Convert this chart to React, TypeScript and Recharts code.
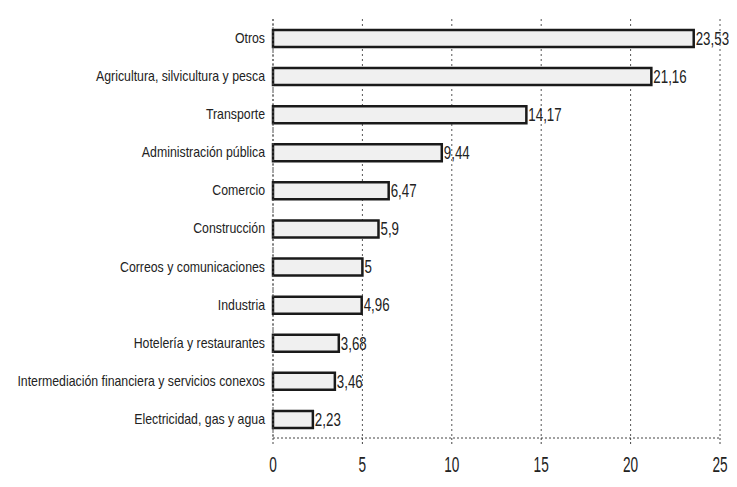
import { BarChart, Bar, XAxis, YAxis, CartesianGrid, LabelList } from "recharts"

const categories = [
  "Otros",
  "Agricultura, silvicultura y pesca",
  "Transporte",
  "Administración pública",
  "Comercio",
  "Construcción",
  "Correos y comunicaciones",
  "Industria",
  "Hotelería y restaurantes",
  "Intermediación financiera y servicios conexos",
  "Electricidad, gas y agua",
]

const values = [23.53, 21.16, 14.17, 9.44, 6.47, 5.9, 5, 4.96, 3.68, 3.46, 2.23]

const xTicks = [0, 5, 10, 15, 20, 25]

const data = categories.map((name, i) => ({ name, value: values[i] }))

const FONT = "'Liberation Sans', Arial, sans-serif"

const fmt = (v: any) => String(v).replace(".", ",")

// narrow text: no condensed font installed, so squeeze horizontally
function YTick(props: any) {
  const { x, y, payload } = props
  return (
    <text
      transform={`translate(${x},${y}) scale(0.88,1)`}
      textAnchor="end"
      dy="0.35em"
      fill="#222"
      fontSize={14}
      fontFamily={FONT}
    >
      {payload.value}
    </text>
  )
}

function XTick(props: any) {
  const { x, y, payload } = props
  return (
    <text
      transform={`translate(${x},${y}) scale(0.62,1)`}
      textAnchor="middle"
      dy="0.71em"
      fill="#222"
      fontSize={22}
      fontFamily={FONT}
    >
      {payload.value}
    </text>
  )
}

function ValueLabel(props: any) {
  const { x, y, width, height, value } = props
  return (
    <text
      transform={`translate(${x + width + 2},${y + height / 2}) scale(0.74,1)`}
      dy="0.35em"
      fill="#222"
      fontSize={18}
      fontFamily={FONT}
    >
      {fmt(value)}
    </text>
  )
}

export default function App() {
  return (
    <div style={{ margin: -8, width: 737, height: 487, background: "#fff" }}>
      <BarChart
        width={737}
        height={487}
        data={data}
        layout="vertical"
        margin={{ top: 19, right: 17, bottom: 0, left: 0 }}
      >
        <CartesianGrid horizontal={false} stroke="#555" strokeDasharray="2 3" />
        <XAxis
          type="number"
          domain={[0, 25]}
          ticks={xTicks}
          height={49}
          tickSize={6}
          tickMargin={12}
          stroke="#444"
          strokeDasharray="2 2"
          tick={<XTick />}
        />
        <YAxis
          type="category"
          dataKey="name"
          width={273}
          tickSize={0}
          tickMargin={8}
          stroke="#555"
          strokeDasharray="2 2"
          interval={0}
          tick={<YTick />}
        />
        <Bar
          dataKey="value"
          fill="#f0f0f0"
          stroke="#1a1a1a"
          strokeWidth={2.5}
          barSize={17}
          isAnimationActive={false}
        >
          <LabelList dataKey="value" content={<ValueLabel />} />
        </Bar>
      </BarChart>
    </div>
  )
}
